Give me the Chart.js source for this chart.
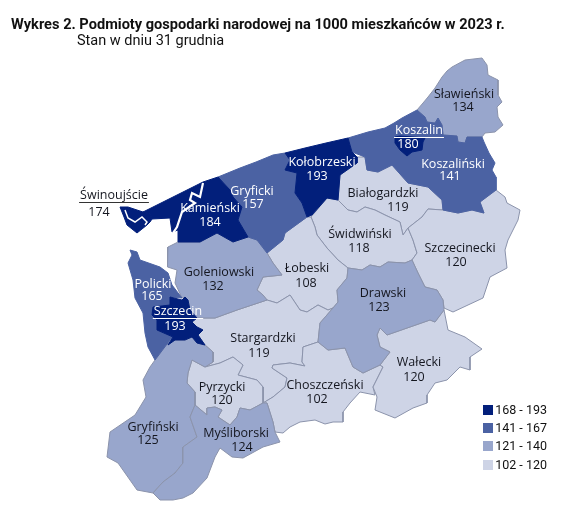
<!DOCTYPE html>
<html lang="pl">
<head>
<meta charset="utf-8">
<title>Wykres 2</title>
<script src="https://cdn.jsdelivr.net/npm/chart.js@4"></script>
<style>
  html, body { margin: 0; padding: 0; background: #fff; }
  body { width: 570px; height: 531px; position: relative; overflow: hidden; font-family: "Open Sans", sans-serif; color: #111; }
  #chart { position: absolute; left: 0; top: 0; }
  #title { position: absolute; left: 11px; top: 15px; font: 700 14.6px Roboto, sans-serif; white-space: nowrap; }
  #subtitle { position: absolute; left: 77px; top: 32px; font: 400 14.5px Roboto, sans-serif; white-space: nowrap; }
  .leg { position: absolute; left: 483px; width: 64px; height: 10px; }
  .leg i { position: absolute; left: 0; top: 0; width: 10px; height: 10px; }
  .leg span { position: absolute; right: 0; top: -3px; font: 400 12.5px/16px Roboto, sans-serif; white-space: nowrap; }
</style>
</head>
<body>
<canvas id="chart" width="570" height="531"></canvas>
<div id="title">Wykres 2. Podmioty gospodarki narodowej na 1000 mieszkańców w 2023 r.</div>
<div id="subtitle">Stan w dniu 31 grudnia</div>
<div id="legend"></div>
<script>
const NAMES = ['Sławieński','Koszaliński','Koszalin','Kołobrzeski','Gryficki','Kamieński','Świnoujście','Białogardzki','Świdwiński','Szczecinecki','Goleniowski','Łobeski','Drawski','Policki','Szczecin','Stargardzki','Pyrzycki','Choszczeński','Wałecki','Gryfiński','Myśliborski'];
const VALUES = [134,141,180,193,157,184,174,119,118,120,132,108,123,165,193,119,120,102,120,125,124];
const BIN_LABELS = ['168 - 193','141 - 167','121 - 140','102 - 120'];
const BIN_MIN = [168,141,121,102];
const BIN_COLORS = ['#021f7b','#4b62a3','#98a6cc','#ced4e6'];
const LEGEND_Y = [405,423,441,460];

// kontury powiatow: x,y,x,y...
const OUTLINES = {
  'Sławieński': [417,110,423,103,428,97,435,88,442,77,447,71,452,67,465,60,482,58,487,65,488,75,498,80,498,95,502,102,497,107,498,117,503,125,495,132,485,133,482,137,467,137,465,143,458,142,457,136,443,135,442,125,438,118,435,123,427,122,425,117],
  'Koszaliński': [348,138,368,132,385,128,394,123,402,118,417,110,425,117,427,122,435,123,438,118,442,125,443,135,457,136,458,142,465,143,467,137,482,137,484,142,489,153,495,163,492,170,496,177,496,190,480,202,484,213,472,210,458,213,443,210,442,200,428,187,408,183,392,165,378,172,367,170,365,157,352,152],
  'Koszalin': [395,137,400,136,425,138,423,142,422,150,412,152,407,156,400,150,395,143],
  'Kołobrzeski': [285,153,305,148,326,143,348,138,352,152,357,157,357,163,340,175,338,200,327,198,312,215,307,217,302,203,295,193,297,173,285,170,290,160],
  'Gryficki': [218,177,240,168,256,162,273,155,285,153,290,160,285,170,297,173,295,193,302,203,307,217,285,233,283,240,267,253,257,240,248,237,238,220,242,207,233,197,230,190],
  'Kamieński': [143,212,155,206,167,200,187,190,203,182,218,177,230,190,233,197,242,207,238,220,248,237,233,242,217,233,200,242,178,242,178,230,172,232,170,218,152,219,150,214],
  'Świnoujście': [120,207,128,207,143,212,150,214,152,219,150,222,147,225,137,233,127,225,124,217],
  'Białogardzki': [365,157,367,170,378,172,392,165,408,183,428,187,442,200,443,210,428,209,422,217,408,228,403,235,400,222,385,215,375,210,365,207,357,212,348,210,338,200,340,175,357,163,357,157],
  'Świdwiński': [311,217,327,198,338,200,348,210,357,212,365,207,375,210,385,215,400,222,403,235,408,228,413,240,417,253,412,260,405,263,388,262,380,267,370,265,362,270,348,268,338,260,327,248,317,235,315,227],
  'Szczecinecki': [428,209,443,210,458,213,472,210,484,213,480,202,496,190,505,197,507,203,520,210,518,220,508,240,505,250,507,268,490,277,483,298,453,312,444,308,443,300,437,290,425,287,418,273,412,260,417,253,413,240,408,228,422,217],
  'Goleniowski': [178,242,168,247,167,257,168,267,177,270,175,283,182,298,185,297,188,300,190,310,197,318,215,318,237,310,267,300,263,295,257,290,263,277,282,275,273,263,267,253,257,240,248,237,233,242,217,233,200,242],
  'Łobeski': [307,217,285,233,283,240,267,253,273,263,282,275,263,277,257,290,263,295,267,300,277,303,290,295,300,310,307,312,318,305,328,310,333,308,338,302,337,290,347,278,348,268,338,260,327,248,317,235,315,227,311,217],
  'Drawski': [348,268,362,270,370,265,380,267,388,262,405,263,412,260,418,273,425,287,437,290,443,300,444,310,435,322,430,320,387,335,380,328,377,335,380,347,390,352,380,365,363,373,353,367,345,348,328,350,318,342,320,323,333,308,338,302,337,290,347,278],
  'Policki': [130,250,137,252,140,260,160,267,168,273,172,285,182,298,170,297,170,305,153,307,152,315,157,320,157,330,173,337,167,344,155,360,148,347,145,333,143,313,135,298,133,280,128,263,132,255],
  'Szczecin': [170,297,182,300,185,297,188,300,190,310,197,318,192,322,197,327,203,330,198,335,205,345,197,343,192,337,185,340,175,340,168,345,173,337,157,330,157,320,152,315,153,307,170,305],
  'Stargardzki': [197,318,192,322,197,327,203,330,198,335,205,345,213,352,213,362,205,367,220,363,233,357,243,365,238,375,257,380,263,387,263,403,273,397,285,387,287,378,272,368,273,365,290,363,305,366,302,362,303,347,318,342,320,323,333,308,328,310,318,305,307,312,300,310,290,295,277,303,267,300,237,310,215,318],
  'Pyrzycki': [192,360,205,367,220,363,233,357,243,365,238,375,257,380,263,387,263,403,250,410,240,408,237,417,230,425,218,417,222,410,215,407,207,408,207,415,195,405,195,392,187,383,188,373],
  'Choszczeński': [318,342,328,350,345,348,353,367,363,373,380,365,383,367,373,387,375,395,360,392,350,403,343,412,343,422,333,422,325,424,315,420,300,422,290,427,283,433,275,432,273,422,267,403,263,403,273,397,285,387,287,378,272,368,273,365,290,363,305,366,302,362,303,347],
  'Wałecki': [444,310,448,330,465,337,482,349,470,357,470,370,460,367,447,380,435,383,427,395,427,403,413,408,395,418,375,410,377,397,373,387,383,367,380,365,390,352,380,347,377,335,380,328,387,335,430,320,435,322],
  'Gryfiński': [167,344,175,340,185,340,192,337,197,343,205,345,213,352,213,362,205,367,192,360,188,373,187,383,195,392,195,405,190,417,197,437,183,447,183,463,175,473,163,482,153,493,137,490,118,463,107,457,110,432,135,415,146,397,143,380,150,367,155,360],
  'Myśliborski': [195,405,207,415,207,408,215,407,222,410,218,417,230,425,237,417,240,408,250,410,263,403,267,403,273,422,275,432,280,442,263,447,243,458,232,457,220,448,215,457,207,478,193,493,183,498,173,500,160,500,153,493,163,482,175,473,183,463,183,447,197,437,190,417]
};
// zalew i cieśniny
const WATER = {
  'Zalew Kamieński': [203,183,200,197,192,193,190,200,195,203,182,212,177,227,173,233],
  'Świna': [125,210,128,218,135,222,142,217,147,222,145,225]
};

// pozycje opisow
const LABEL_X = [464,453,419,322,252,210,114,383,360,460,219,307,383,153,178,263,222,325,419,153,236];
const LABEL_Y = [94,164,130,162,191,208,195,193,234,248,272,268,293,284,311,338,387,385,362,427,433];
const VALUE_X = [463,450,408,317,253,210,99,398,359,456,213,306,379,152,175,259,222,317,414,148,242];
const VALUE_Y = [107,176,144,176,204,222,212,207,248,262,286,283,307,296,326,353,400,399,377,440,447];
const UNDERLINED = ['Świnoujście','Koszalin','Szczecin'];

function binOf(v){ return BIN_MIN.findIndex(m => v >= m); }
function toPoints(flat){
  const pts = [];
  for(let i=0;i<flat.length;i+=2) pts.push({x:flat[i], y:flat[i+1]});
  return pts;
}
function closed(flat){ const p = toPoints(flat); p.push(p[0]); return p; }

const datasets = NAMES.map((name,i)=>({
  label: name,
  data: closed(OUTLINES[name]),
  showLine: true,
  fill: 'shape',
  backgroundColor: BIN_COLORS[binOf(VALUES[i])],
  borderColor: binOf(VALUES[i]) < 2 ? BIN_COLORS[binOf(VALUES[i])] : '#8b93ab',
  borderWidth: 1,
  tension: 0,
  pointRadius: 0
}));
// miasta i ciemne powiaty na wierzchu, zalew na koncu
datasets.sort((a,b)=>binOf(VALUES[NAMES.indexOf(b.label)]) - binOf(VALUES[NAMES.indexOf(a.label)]));
Object.keys(WATER).forEach(k => datasets.push({
  label: k, data: toPoints(WATER[k]), showLine: true, fill: false,
  borderColor: '#fff', borderWidth: k === 'Świna' ? 1.5 : 2.2, pointRadius: 0, tension: 0
}));
// order: nizszy order jest rysowany na wierzchu
datasets.forEach((d,i)=>{ d.order = datasets.length - i; });

const labelsPlugin = {
  id: 'labels',
  afterDatasetsDraw(chart){
    const {ctx, scales:{x,y}} = chart;
    ctx.save();
    ctx.textAlign = 'center';
    ctx.textBaseline = 'middle';
    ctx.font = '500 12.5px "Open Sans"';
    NAMES.forEach((name,i)=>{
      const onDark = binOf(VALUES[i]) < 2 && name !== 'Świnoujście';
      ctx.fillStyle = onDark ? '#fff' : '#14161f';
      const lx = x.getPixelForValue(LABEL_X[i]), ly = y.getPixelForValue(LABEL_Y[i]);
      ctx.fillText(name, lx, ly);
      ctx.fillText(String(VALUES[i]), x.getPixelForValue(VALUE_X[i]), y.getPixelForValue(VALUE_Y[i]));
      if(UNDERLINED.includes(name)){
        const w = ctx.measureText(name).width/2 + 1;
        ctx.strokeStyle = onDark ? '#fff' : '#333';
        ctx.lineWidth = 1;
        ctx.beginPath();
        ctx.moveTo(lx-w, ly+7.5);
        ctx.lineTo(lx+w, ly+7.5);
        ctx.stroke();
      }
    });
    ctx.restore();
  }
};

new Chart(document.getElementById('chart').getContext('2d'), {
  type: 'scatter',
  data: { datasets },
  options: {
    responsive: false,
    animation: false,
    layout: { padding: 0 },
    plugins: { legend: { display: false }, tooltip: { enabled: false } },
    scales: {
      x: { type: 'linear', min: 0, max: 570, display: false },
      y: { type: 'linear', min: 0, max: 531, reverse: true, display: false }
    }
  },
  plugins: [labelsPlugin]
});

const legendEl = document.getElementById('legend');
BIN_LABELS.forEach((t,i)=>{
  const row = document.createElement('div');
  row.className = 'leg';
  row.style.top = LEGEND_Y[i] + 'px';
  row.innerHTML = '<i style="background:' + BIN_COLORS[i] + '"></i><span>' + t + '</span>';
  legendEl.appendChild(row);
});
</script>
</body>
</html>
